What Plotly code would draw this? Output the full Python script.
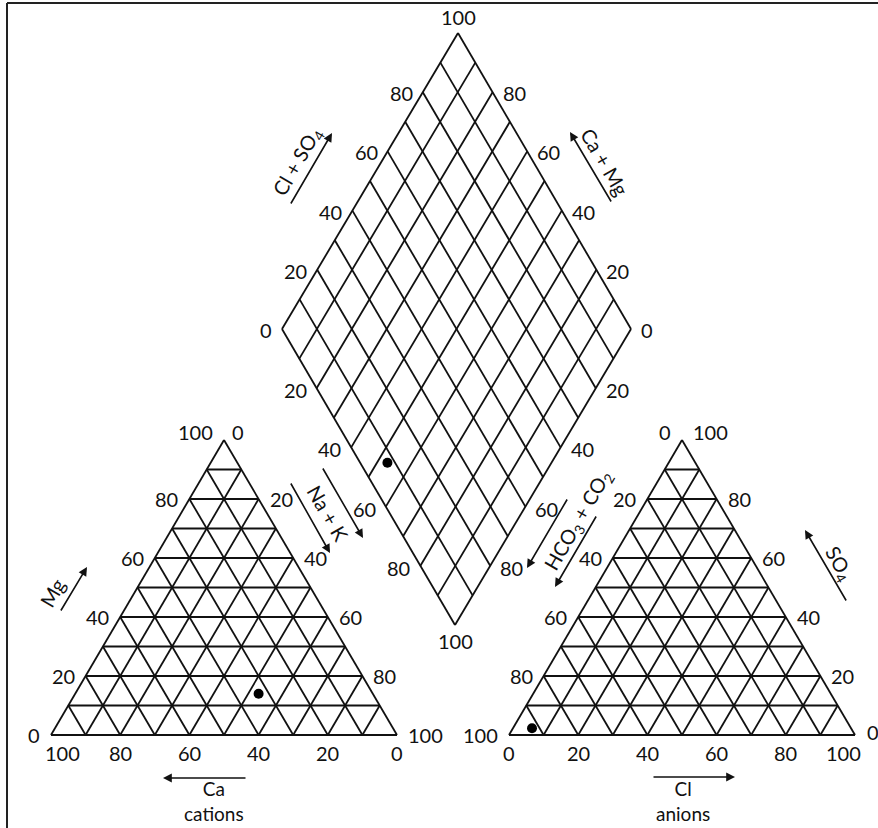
import plotly.graph_objects as go

# ---------------- data ----------------
grid_ticks = [0, 10, 20, 30, 40, 50, 60, 70, 80, 90]
label_ticks = [0, 20, 40, 60, 80, 100]

# sample composition (percent of meq)
cation_ca = [33.0]
cation_mg = [14.0]
cation_nak = [53.0]
anion_hco3 = [92.2]
anion_so4 = [2.3]
anion_cl = [5.5]

# ---------------- geometry (pixels) ----------------
W_FIG, H_FIG = 878, 828
TRI_W, TRI_H = 346, 295
CAT_BL = (51, 735)
AN_BL = (509, 735)
DIA_B = (455, 625)
DIA_L = (282, 329)
DIA_R = (631, 329)
FONT = dict(family="Lato, Open Sans, sans-serif", size=20, color="#111")
LINE = "#111"


def cat_xy(ca, mg, nak):
    return (CAT_BL[0] + (nak + mg / 2) / 100 * TRI_W, CAT_BL[1] - mg / 100 * TRI_H)


def an_xy(hco3, so4, cl):
    return (AN_BL[0] + (cl + so4 / 2) / 100 * TRI_W, AN_BL[1] - so4 / 100 * TRI_H)


def dia_xy(camg, clso4):
    u, v = camg / 100, clso4 / 100
    x = DIA_B[0] + u * (DIA_L[0] - DIA_B[0]) + v * (DIA_R[0] - DIA_B[0])
    y = DIA_B[1] + u * (DIA_L[1] - DIA_B[1]) + v * (DIA_R[1] - DIA_B[1])
    return x, y


def seg(xs, ys, p, q):
    xs += [p[0], q[0], None]
    ys += [p[1], q[1], None]


fig = go.Figure()

# ---------- cation triangle grid ----------
xs, ys = [], []
for k in grid_ticks:
    seg(xs, ys, cat_xy(100 - k, k, 0), cat_xy(0, k, 100 - k))      # Mg const
    seg(xs, ys, cat_xy(k, 0, 100 - k), cat_xy(k, 100 - k, 0))      # Ca const
    seg(xs, ys, cat_xy(100 - k, 0, k), cat_xy(0, 100 - k, k))      # Na+K const
# ---------- anion triangle grid ----------
for k in grid_ticks:
    seg(xs, ys, an_xy(100 - k, k, 0), an_xy(0, k, 100 - k))
    seg(xs, ys, an_xy(k, 0, 100 - k), an_xy(k, 100 - k, 0))
    seg(xs, ys, an_xy(100 - k, 0, k), an_xy(0, 100 - k, k))
# ---------- diamond grid ----------
for k in grid_ticks + [100]:
    seg(xs, ys, dia_xy(k, 0), dia_xy(k, 100))
    seg(xs, ys, dia_xy(0, k), dia_xy(100, k))

fig.add_trace(go.Scatter(x=xs, y=ys, mode="lines",
                         line=dict(color=LINE, width=1.8), hoverinfo="skip",
                         showlegend=False))

# ---------- sample points ----------
cx, cy = zip(*[cat_xy(a, b, c) for a, b, c in zip(cation_ca, cation_mg, cation_nak)])
axp, ayp = zip(*[an_xy(a, b, c) for a, b, c in zip(anion_hco3, anion_so4, anion_cl)])
dx, dy = zip(*[dia_xy(a + b, s + c) for a, b, s, c in
               zip(cation_ca, cation_mg, anion_so4, anion_cl)])
fig.add_trace(go.Scatter(x=list(cx) + list(axp) + list(dx),
                         y=list(cy) + list(ayp) + list(dy), mode="markers",
                         marker=dict(color="#000", size=10), showlegend=False))

ann = []


def lab(text, x, y, xa="center", ya="middle"):
    ann.append(dict(x=x, y=y, text=text, showarrow=False, xanchor=xa,
                    yanchor=ya, font=FONT))


# ---------- cation triangle labels ----------
for t in label_ticks:
    px, py = cat_xy(100 - t, t, 0)          # left edge: Mg
    if t == 100:
        lab(str(t), px - 9, py - 8, "right")
    else:
        lab(str(t), px - 9, py, "right")
    px, py = cat_xy(0, 100 - t, t)          # right edge: Na+K
    if t == 0:
        lab(str(t), px + 6, py - 8, "left")
    else:
        lab(str(t), px + 9, py, "left")
    px, py = cat_xy(t, 0, 100 - t)          # bottom: Ca
    if t == 100:
        lab(str(t), px - 8, py + 18, "left")
    else:
        lab(str(t), px, py + 18)

# ---------- anion triangle labels ----------
for t in label_ticks:
    px, py = an_xy(t, 100 - t, 0)           # left edge: HCO3
    if t == 0:
        lab(str(t), px - 9, py - 8, "right")
    else:
        lab(str(t), px - 9, py, "right")
    px, py = an_xy(0, t, 100 - t)           # right edge: SO4
    if t == 100:
        lab(str(t), px + 9, py - 8, "left")
    elif t == 0:
        lab(str(t), px + 10, py - 3, "left")
    else:
        lab(str(t), px + 9, py, "left")
    px, py = an_xy(100 - t, 0, t)           # bottom: Cl
    if t == 100:
        lab(str(t), px + 8, py + 18, "right")
    else:
        lab(str(t), px, py + 18)

# ---------- diamond labels ----------
for t in label_ticks:
    if t == 100:
        px, py = dia_xy(100, 100)
        lab(str(t), px, py - 16)
        px, py = dia_xy(0, 0)
        lab(str(t), px, py + 16)
        continue
    px, py = dia_xy(100, t)   # upper-left: Cl+SO4
    lab(str(t), px - 8, py + 1, "right")
    px, py = dia_xy(t, 100)   # upper-right: Ca+Mg
    lab(str(t), px + 8, py + 1, "left")
    if t > 0:
        px, py = dia_xy(100 - t, 0)   # lower-left: Na+K
        lab(str(t), px - 8, py + 2, "right")
        px, py = dia_xy(0, 100 - t)   # lower-right: HCO3+CO2
        lab(str(t), px + 8, py + 2, "left")

# ---------- axis titles ----------
def title(text, x, y, ang, size=20):
    f = dict(FONT)
    f["size"] = size
    ann.append(dict(x=x, y=y, text=text, showarrow=False, textangle=ang,
                    xanchor="center", yanchor="middle", font=f))


def arrow(tail, head):
    ann.append(dict(x=head[0], y=head[1], ax=tail[0], ay=tail[1], axref="x",
                    ayref="y", xref="x", yref="y", text="", showarrow=True,
                    arrowhead=2, arrowsize=1.1, arrowwidth=1.6, arrowcolor=LINE))


title("Ca<br>cations", 214, 801, 0, 19)
arrow((247, 778), (163, 778))
title("Cl<br>anions", 683, 801, 0, 19)
arrow((652, 777), (735, 777))
title("Mg", 52, 593, -60)
arrow((60, 612), (87, 567))
title("Na + K", 328, 513, 60)
arrow((290, 482), (330, 553))
arrow((322, 467), (363, 538))
title("HCO<sub>3</sub> + CO<sub>2</sub>", 578, 520, -60)
arrow((568, 498), (527, 568))
arrow((597, 515), (555, 587))
title("Cl + SO<sub>4</sub>", 297, 162, -60)
arrow((290, 205), (332, 133))
title("Ca + Mg", 605, 162, 60)
arrow((612, 203), (570, 132))
title("SO<sub>4</sub>", 839, 563, 60)
arrow((847, 602), (805, 530))

# ---------- frame (top and left rule) ----------
shapes = [
    dict(type="line", xref="x", yref="y", x0=7, y0=3, x1=W_FIG, y1=3,
         line=dict(color="#222", width=2)),
    dict(type="line", xref="x", yref="y", x0=7, y0=3, x1=7, y1=H_FIG,
         line=dict(color="#222", width=2)),
]

fig.update_layout(
    width=W_FIG, height=H_FIG, margin=dict(l=0, r=0, t=0, b=0),
    paper_bgcolor="white", plot_bgcolor="white",
    xaxis=dict(range=[0, W_FIG], visible=False, fixedrange=True),
    yaxis=dict(range=[H_FIG, 0], visible=False, fixedrange=True),
    annotations=ann, shapes=shapes, showlegend=False,
)

fig.write_html("out.html", config={"displayModeBar": False},
               post_script="document.body.style.margin='0';document.body.style.overflow='hidden';")
